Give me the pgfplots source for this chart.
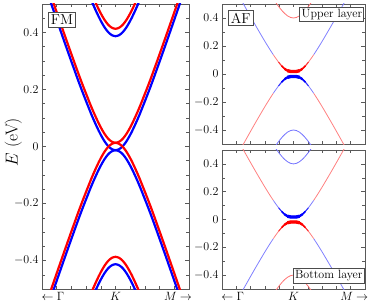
\documentclass[border=0pt]{standalone}
\usepackage{pgfplots}
\usepackage{pgfplotstable}
\pgfplotsset{compat=1.18}

\pgfplotstableread{
u rc rv bc bv rh bh rl bl
-0.75 0.589 -0.563 0.563 -0.589 0.989 0.963 -0.963 -0.989
-0.70 0.541 -0.515 0.515 -0.541 0.941 0.915 -0.915 -0.941
-0.60 0.446 -0.420 0.420 -0.446 0.846 0.820 -0.820 -0.846
-0.50 0.352 -0.326 0.326 -0.352 0.752 0.726 -0.726 -0.752
-0.40 0.260 -0.234 0.234 -0.260 0.660 0.634 -0.634 -0.660
-0.35 0.216 -0.190 0.190 -0.216 0.616 0.590 -0.590 -0.616
-0.30 0.174 -0.148 0.148 -0.174 0.574 0.548 -0.548 -0.574
-0.25 0.133 -0.107 0.107 -0.133 0.533 0.507 -0.507 -0.533
-0.20 0.096 -0.070 0.070 -0.096 0.496 0.470 -0.470 -0.496
-0.16 0.069 -0.043 0.043 -0.069 0.469 0.443 -0.443 -0.469
-0.12 0.046 -0.020 0.020 -0.046 0.446 0.420 -0.420 -0.446
-0.08 0.028 -0.002 0.002 -0.028 0.428 0.402 -0.402 -0.428
-0.04 0.017 0.009 -0.009 -0.017 0.417 0.391 -0.391 -0.417
0.00 0.013 0.013 -0.013 -0.013 0.413 0.387 -0.387 -0.413
0.04 0.017 0.009 -0.009 -0.017 0.417 0.391 -0.391 -0.417
0.08 0.028 -0.002 0.002 -0.028 0.428 0.402 -0.402 -0.428
0.12 0.046 -0.020 0.020 -0.046 0.446 0.420 -0.420 -0.446
0.16 0.069 -0.043 0.043 -0.069 0.469 0.443 -0.443 -0.469
0.20 0.096 -0.070 0.070 -0.096 0.496 0.470 -0.470 -0.496
0.25 0.133 -0.107 0.107 -0.133 0.533 0.507 -0.507 -0.533
0.30 0.174 -0.148 0.148 -0.174 0.574 0.548 -0.548 -0.574
0.35 0.216 -0.190 0.190 -0.216 0.616 0.590 -0.590 -0.616
0.40 0.260 -0.234 0.234 -0.260 0.660 0.634 -0.634 -0.660
0.50 0.352 -0.326 0.326 -0.352 0.752 0.726 -0.726 -0.752
0.60 0.446 -0.420 0.420 -0.446 0.846 0.820 -0.820 -0.846
0.70 0.541 -0.515 0.515 -0.541 0.941 0.915 -0.915 -0.941
0.75 0.589 -0.563 0.563 -0.589 0.989 0.963 -0.963 -0.989
}\fmtab

\pgfplotstableread{
u c v h l
-0.75 0.5765 -0.5765 0.9762 -0.9762
-0.70 0.5283 -0.5283 0.9280 -0.9280
-0.60 0.4328 -0.4328 0.8325 -0.8325
-0.50 0.3390 -0.3390 0.7385 -0.7385
-0.40 0.2479 -0.2479 0.6472 -0.6472
-0.35 0.2039 -0.2039 0.6031 -0.6031
-0.30 0.1616 -0.1616 0.5606 -0.5606
-0.27 0.1372 -0.1372 0.5360 -0.5360
-0.25 0.1215 -0.1215 0.5202 -0.5202
-0.20 0.0847 -0.0847 0.4828 -0.4828
-0.16 0.0589 -0.0589 0.4561 -0.4561
-0.12 0.0378 -0.0378 0.4332 -0.4332
-0.08 0.0237 -0.0237 0.4154 -0.4154
-0.04 0.0184 -0.0184 0.4040 -0.4040
0.00 0.0180 -0.0180 0.4000 -0.4000
0.04 0.0184 -0.0184 0.4040 -0.4040
0.08 0.0237 -0.0237 0.4154 -0.4154
0.12 0.0378 -0.0378 0.4332 -0.4332
0.16 0.0589 -0.0589 0.4561 -0.4561
0.20 0.0847 -0.0847 0.4828 -0.4828
0.25 0.1215 -0.1215 0.5202 -0.5202
0.27 0.1372 -0.1372 0.5360 -0.5360
0.30 0.1616 -0.1616 0.5606 -0.5606
0.35 0.2039 -0.2039 0.6031 -0.6031
0.40 0.2479 -0.2479 0.6472 -0.6472
0.50 0.3390 -0.3390 0.7385 -0.7385
0.60 0.4328 -0.4328 0.8325 -0.8325
0.70 0.5283 -0.5283 0.9280 -0.9280
0.75 0.5765 -0.5765 0.9762 -0.9762
}\aftab

\pgfplotsset{
  base/.style={
    scale only axis,
    ymin=-0.5, ymax=0.5,
    ytick={-0.4,-0.2,0,0.2,0.4},
    tick align=inside,
    xtick pos=both, ytick pos=both,
    axis line style={black!65, line width=0.6pt},
    tick style={black!65, line width=0.5pt},
    major x tick style={draw=none},
    tick label style={font=\large},
    unbounded coords=jump,
  },
  rightax/.style={
    base,
    width=143pt,
    xmin=-0.958, xmax=0.958,
    xtick={-0.814,0,0.814},
    minor xtick={-0.766,-0.575,-0.383,-0.192,0,0.192,0.383,0.575,0.766},
    minor ytick={-0.3,-0.1,0.1,0.3},
  },
}

\newcommand{\nearband}[2]{%
  \addplot[#2!50, line width=0.8pt, smooth, restrict x to domain=-0.271:0.271] table[x=u,y=#1]{\aftab};
  \addplot[#2!80, line width=1.0pt, smooth, restrict x to domain=-0.201:0.201] table[x=u,y=#1]{\aftab};
  \addplot[#2, line width=1.5pt, smooth, restrict x to domain=-0.161:0.161] table[x=u,y=#1]{\aftab};
  \addplot[#2, line width=2.3pt, smooth, restrict x to domain=-0.121:0.121] table[x=u,y=#1]{\aftab};
  \addplot[#2, line width=3.3pt, smooth, restrict x to domain=-0.081:0.081] table[x=u,y=#1]{\aftab};
}

\begin{document}
\begin{tikzpicture}
\path (-42pt,-17pt) rectangle (332pt,289pt);

% ---------- FM ----------
\begin{axis}[base,
  at={(0pt,0pt)}, anchor=south west,
  width=147pt, height=285pt,
  xmin=-0.783, xmax=0.783,
  xtick={-0.666,0,0.666},
  xticklabels={$\leftarrow\Gamma$,$K$,$M\rightarrow$},
  minor xtick={-0.626,-0.470,-0.313,-0.157,0,0.157,0.313,0.470,0.626},
  minor ytick={-0.45,-0.35,-0.3,-0.25,-0.15,-0.1,-0.05,0.05,0.1,0.15,0.25,0.3,0.35,0.45},
  ylabel={$E$ (eV)},
  ylabel style={font=\LARGE, at={(axis description cs:-0.195,0.515)}, anchor=center},
]
\addplot[blue, line width=2.2pt, smooth] table[x=u,y=bc]{\fmtab};
\addplot[blue, line width=2.2pt, smooth] table[x=u,y=bv]{\fmtab};
\addplot[blue, line width=2.2pt, smooth] table[x=u,y=bh]{\fmtab};
\addplot[blue, line width=2.2pt, smooth] table[x=u,y=bl]{\fmtab};
\addplot[red, line width=2.2pt, smooth] table[x=u,y=rc]{\fmtab};
\addplot[red, line width=2.2pt, smooth] table[x=u,y=rv]{\fmtab};
\addplot[red, line width=2.2pt, smooth] table[x=u,y=rh]{\fmtab};
\addplot[red, line width=2.2pt, smooth] table[x=u,y=rl]{\fmtab};
\node[draw=black!70, fill=white, line width=0.8pt, font=\Large, inner sep=2.4pt, anchor=north west]
  at (rel axis cs:0.042,0.972) {FM};
\end{axis}

% ---------- AF upper ----------
\begin{axis}[rightax,
  at={(180pt,145pt)}, anchor=south west,
  height=140pt,
  xticklabels={},
]
\addplot[blue!50, line width=0.8pt, smooth, restrict y to domain=0.137:2] table[x=u,y=c]{\aftab};
\addplot[red!50, line width=0.8pt, smooth, restrict y to domain=-2:-0.137] table[x=u,y=v]{\aftab};
\addplot[red!55, line width=0.8pt, smooth] table[x=u,y=h]{\aftab};
\addplot[blue!55, line width=0.8pt, smooth] table[x=u,y=l]{\aftab};
\nearband{c}{red}
\nearband{v}{blue}
\node[draw=black!70, fill=white, line width=0.8pt, font=\Large, inner sep=2.4pt, anchor=north west]
  at (rel axis cs:0.042,0.957) {AF};
\node[draw=black!70, fill=white, line width=0.8pt, font=\large, inner sep=1.8pt, anchor=north east]
  at (rel axis cs:0.995,0.978) {Upper layer};
\end{axis}

% ---------- AF bottom ----------
\begin{axis}[rightax,
  at={(180pt,0pt)}, anchor=south west,
  height=139pt,
  xticklabels={$\leftarrow\Gamma$,$K$,$M\rightarrow$},
]
\addplot[red!50, line width=0.8pt, smooth, restrict y to domain=0.137:2] table[x=u,y=c]{\aftab};
\addplot[blue!50, line width=0.8pt, smooth, restrict y to domain=-2:-0.137] table[x=u,y=v]{\aftab};
\addplot[blue!55, line width=0.8pt, smooth] table[x=u,y=h]{\aftab};
\addplot[red!55, line width=0.8pt, smooth] table[x=u,y=l]{\aftab};
\nearband{c}{blue}
\nearband{v}{red}
\node[draw=black!70, fill=white, line width=0.8pt, font=\large, inner sep=1.8pt, anchor=south east]
  at (rel axis cs:0.998,0.04) {Bottom layer};
\end{axis}
\end{tikzpicture}
\end{document}
